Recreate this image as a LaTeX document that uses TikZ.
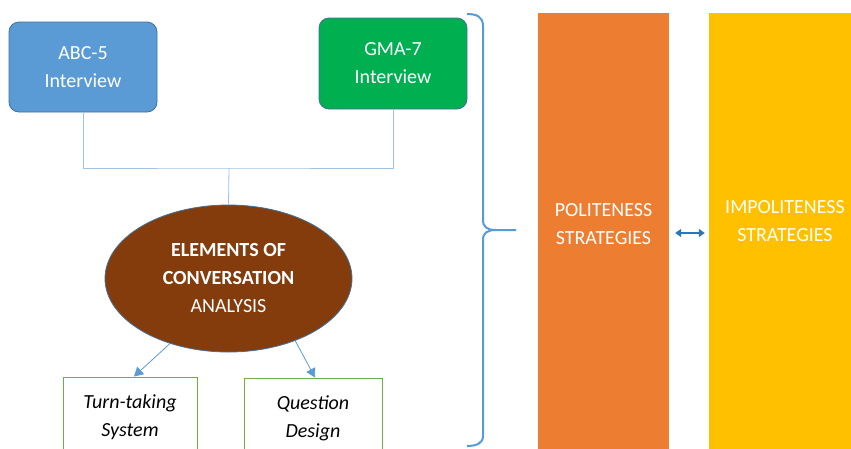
\documentclass[tikz,border=0pt]{standalone}
\usepackage{fontspec}
\setmainfont{Carlito}
\usetikzlibrary{shapes.geometric,arrows.meta}
\definecolor{boxblue}{HTML}{5B9BD5}
\definecolor{boxgreen}{HTML}{00B050}
\definecolor{edgeblue}{HTML}{41719C}
\definecolor{linkblue}{HTML}{9DC3E6}
\definecolor{brownfill}{HTML}{843C0C}
\definecolor{leafgreen}{HTML}{70AD47}
\definecolor{orangebar}{HTML}{ED7D31}
\definecolor{yellowbar}{HTML}{FFC000}
\definecolor{arrowblue}{HTML}{2E75B6}

\begin{document}
\begin{tikzpicture}[x=1pt,y=-1pt,
    every node/.style={font=\fontsize{20}{28}\selectfont, align=center},
    source/.style={rectangle, rounded corners=10pt, draw=edgeblue, line width=0.8pt,
      text=white, minimum width=148pt, minimum height=90pt},
    topic/.style={ellipse, draw=edgeblue, line width=0.8pt, fill=brownfill, text=white,
      minimum width=247pt, minimum height=147pt, inner sep=0pt},
    element/.style={rectangle, draw=leafgreen, line width=1pt, fill=white,
      minimum height=80pt, font=\fontsize{20}{28}\selectfont\itshape},
    bar/.style={rectangle, minimum height=441pt, inner sep=0pt},
    link/.style={draw=linkblue, line width=0.8pt},
    flow/.style={draw=boxblue, line width=0.8pt, -{Triangle[length=9pt,width=10pt]}},
    twoway/.style={draw=arrowblue, line width=2pt, {Triangle[length=6pt,width=8pt]}-{Triangle[length=6pt,width=8pt]}},
    bracket/.style={draw=boxblue, line width=2pt}
  ]
  \path[use as bounding box, fill=white] (0,0) rectangle (851,448);
  \clip (0,0) rectangle (851,448);

  % sources and analysis
  \node[source, fill=boxblue] (abc) at (83,67) {ABC-5\\Interview};
  \node[source, fill=boxgreen, minimum height=91pt] (gma) at (393,63.5) {GMA-7\\Interview};
  \coordinate (join) at (229,168);
  \node[topic] (elements) at (228.5,278.5) {\textbf{ELEMENTS OF}\\\textbf{CONVERSATION}\\ANALYSIS};
  \node[element, minimum width=134pt] (turn) at (130,417) {Turn-taking\\System};
  \node[element, minimum width=138pt] (question) at (313,418) {Question\\Design};

  \draw[link] (abc.south) |- (join) -| (gma.south);
  \draw[link] (join) -- (elements.north);
  \draw[flow] (elements.228) -- ([xshift=4pt]turn.north);
  \draw[flow] (elements.317) -- ([xshift=2pt]question.north);

  % brace
  \draw[bracket] (467,14) .. controls (477,14) and (483,17) .. (483,26) -- (483,220)
    .. controls (483,227) and (487,230) .. (496,230) -- (516,230);
  \draw[bracket] (496,230) .. controls (487,230) and (483,233) .. (483,240) -- (483,436)
    .. controls (483,443) and (477,446) .. (467,446);

  % strategies
  \node[bar, fill=orangebar, minimum width=131pt] (polite) at (603.5,233) {};
  \node[bar, fill=yellowbar, minimum width=162pt] (impolite) at (790,233) {};
  \node[text=white] (politeLabel) at (603.5,224) {POLITENESS\\STRATEGIES};
  \node[text=white] (impoliteLabel) at (785,221) {IMPOLITENESS\\STRATEGIES};
  \draw[twoway] ([xshift=6pt]polite.east) -- ([xshift=-4pt]impolite.west);
\end{tikzpicture}
\end{document}
